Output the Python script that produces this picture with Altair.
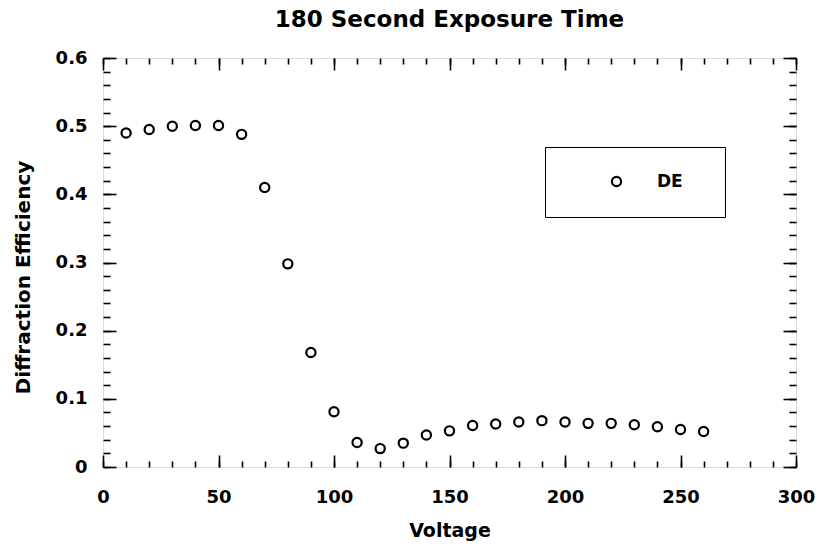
import altair as alt
import pandas as pd

# ---- data ----
voltage = [10, 20, 30, 40, 50, 60, 70, 80, 90, 100, 110, 120, 130,
           140, 150, 160, 170, 180, 190, 200, 210, 220, 230, 240, 250, 260]
efficiency = [0.490, 0.495, 0.500, 0.501, 0.501, 0.488, 0.410, 0.298, 0.168,
              0.081, 0.036, 0.027, 0.035, 0.047, 0.053, 0.061, 0.063, 0.066,
              0.068, 0.066, 0.064, 0.064, 0.062, 0.059, 0.055, 0.052]
series_name = "DE"

x_major = [0, 50, 100, 150, 200, 250, 300]
x_minor = [0, 10, 20, 30, 40, 50, 60, 70, 80, 90, 100, 110, 120, 130, 140, 150,
           160, 170, 180, 190, 200, 210, 220, 230, 240, 250, 260, 270, 280, 290, 300]
y_major = [0, 0.1, 0.2, 0.3, 0.4, 0.5, 0.6]
y_minor = [0, 0.02, 0.04, 0.06, 0.08, 0.1, 0.12, 0.14, 0.16, 0.18, 0.2, 0.22,
           0.24, 0.26, 0.28, 0.3, 0.32, 0.34, 0.36, 0.38, 0.4, 0.42, 0.44, 0.46,
           0.48, 0.5, 0.52, 0.54, 0.56, 0.58, 0.6]

df = pd.DataFrame({"Voltage": voltage, "Efficiency": efficiency,
                   "series": [series_name] * len(voltage)})

W, H = 693, 409
FONT = "DejaVu Sans"

xs = alt.Scale(domain=[0, 300], nice=False, zero=False)
ys = alt.Scale(domain=[0, 0.6], nice=False)


def tick_axis(orient, values, size):
    off = -H if orient in ("top", "bottom") else -W
    return alt.Axis(orient=orient, offset=off, values=values, tickSize=size,
                    tickWidth=1.6, tickColor="black", ticks=True, labels=False,
                    domain=False, grid=False, title=None)


base = alt.Chart(df)

main = base.mark_point(shape="circle", filled=False, size=85, strokeWidth=2.2,
                       opacity=1).encode(
    x=alt.X("Voltage:Q", scale=xs,
            axis=alt.Axis(orient="bottom", values=x_major, format="d",
                          ticks=False, tickSize=0, domain=False, grid=False,
                          labelFlush=False, labelOverlap=False,
                          labelPadding=21, labelFont=FONT, labelFontSize=18,
                          labelFontWeight="bold", labelColor="black",
                          title="Voltage", titleFont=FONT, titleFontSize=19,
                          titleFontWeight="bold", titleColor="black",
                          titleBaseline="alphabetic", titleY=69)),
    y=alt.Y("Efficiency:Q", scale=ys,
            axis=alt.Axis(orient="left", values=y_major,
                          labelExpr="datum.value == 0 ? '0' : format(datum.value, '.1f')",
                          ticks=False, tickSize=0, domain=False, grid=False,
                          labelFlush=False, labelOverlap=False,
                          labelPadding=16, labelFont=FONT, labelFontSize=18,
                          labelFontWeight="bold", labelColor="black",
                          title="Diffraction  Efficiency", titleFont=FONT,
                          titleFontSize=20, titleFontWeight="bold",
                          titleColor="black", titleBaseline="alphabetic",
                          titleAngle=270, titleX=-74, titleY=219)),
    color=alt.Color("series:N", scale=alt.Scale(range=["black"]),
                    legend=alt.Legend(orient="none", legendX=442, legendY=89,
                                      strokeColor="black", padding=26,
                                      fillColor="white",
                                      symbolType="circle", symbolSize=85,
                                      symbolStrokeWidth=2.2,
                                      symbolStrokeColor="black",
                                      symbolOffset=37, labelOffset=32,
                                      labelFont=FONT, labelFontSize=17,
                                      labelFontWeight="bold",
                                      labelColor="black",
                                      title="\u00a0", titleOrient="right",
                                      titlePadding=16, titleFontSize=17)),
)


def ghost(xa, ya):
    return base.mark_point(opacity=0).encode(
        x=alt.X("Voltage:Q", scale=xs, axis=xa),
        y=alt.Y("Efficiency:Q", scale=ys, axis=ya),
    )


layers = [
    main,
    ghost(tick_axis("top", x_minor, 6), tick_axis("right", y_minor, 7)),
    ghost(tick_axis("top", x_major, 12), tick_axis("right", y_major, 13)),
    ghost(tick_axis("bottom", x_minor, 6), tick_axis("left", y_minor, 7)),
    ghost(tick_axis("bottom", x_major, 12), tick_axis("left", y_major, 13)),
]

chart = alt.layer(*layers).resolve_axis(x="independent", y="independent").properties(
    width=W, height=H,
    title=alt.TitleParams("180 Second Exposure Time", font=FONT, fontSize=23,
                          fontWeight="bold", color="black", anchor="middle",
                          baseline="alphabetic", offset=5, dy=6),
    autosize=alt.AutoSizeParams(type="none"),
    padding={"left": 103, "top": 58, "right": 33, "bottom": 79},
).configure_view(stroke="black", strokeWidth=2).configure(background="white")

chart.save("out.html", embed_options={"renderer": "svg", "actions": False})
